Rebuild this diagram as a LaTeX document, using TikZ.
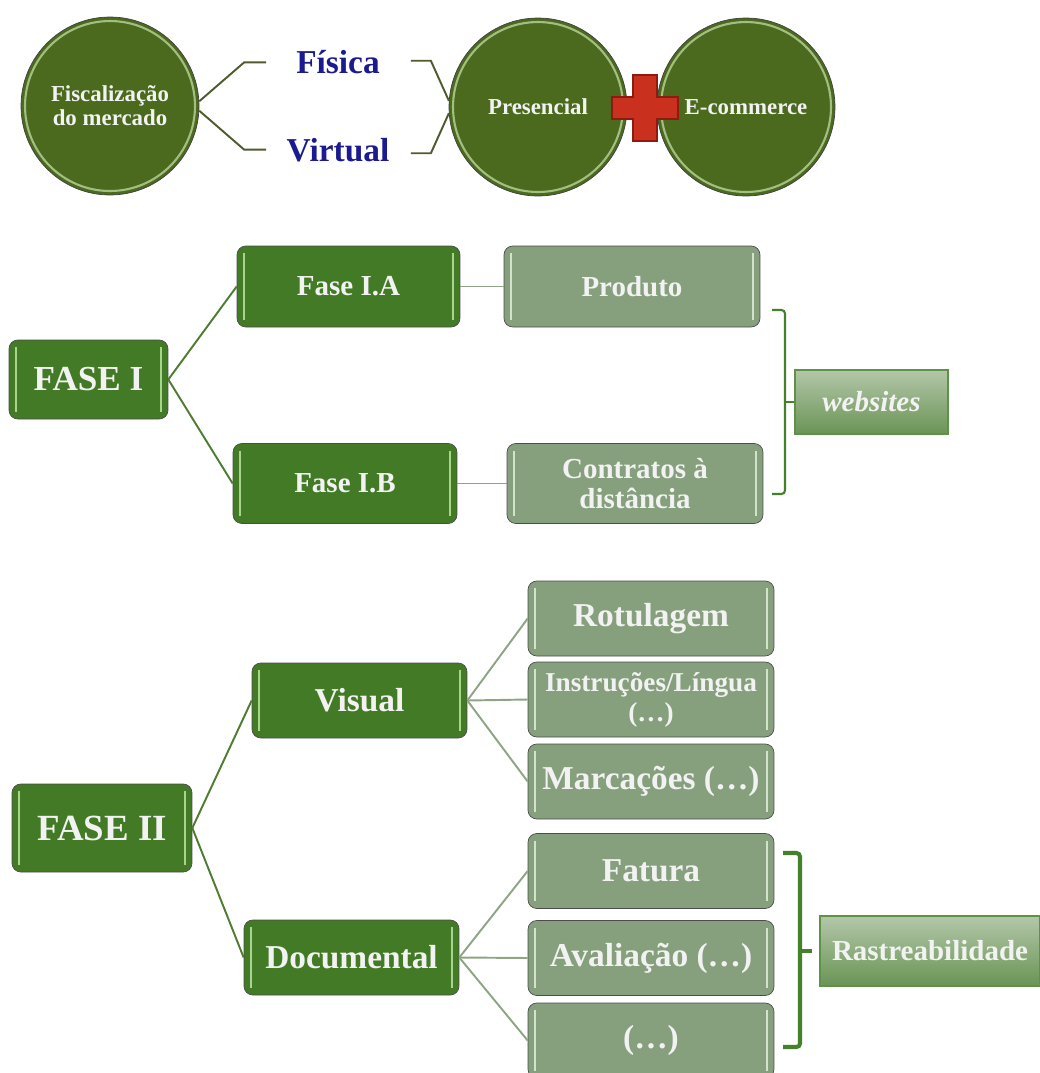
\documentclass[tikz,border=0pt]{standalone}
\usepackage{fontspec}
\setmainfont{Liberation Serif}

\definecolor{bubblegreen}{HTML}{4C6A1E}
\definecolor{rimgreen}{HTML}{B9D39A}
\definecolor{phasegreen}{HTML}{437A25}
\definecolor{leafgreen}{HTML}{86A07D}
\definecolor{phasegloss}{HTML}{A9D48E}
\definecolor{leafgloss}{HTML}{D2E2CB}
\definecolor{tagtop}{HTML}{B3C7A9}
\definecolor{tagbottom}{HTML}{6A9455}
\definecolor{tagborder}{HTML}{5E9246}
\definecolor{branchgreen}{HTML}{4E7D32}
\definecolor{twiggreen}{HTML}{8DA585}
\definecolor{forkolive}{HTML}{4F5B2E}
\definecolor{bracegreen}{HTML}{43822A}
\definecolor{choicenavy}{HTML}{1B1B8F}
\definecolor{crossred}{HTML}{C9301E}
\definecolor{crossdark}{HTML}{8E1B10}

% light stripes along the left and right sides of a box
\newcommand{\glossy}[1]{%
  \draw[#1, line width=1.3pt]
    ([xshift=4pt,yshift=-4pt]path picture bounding box.north west) --
    ([xshift=4pt,yshift=4pt]path picture bounding box.south west)
    ([xshift=-4pt,yshift=-4pt]path picture bounding box.north east) --
    ([xshift=-4pt,yshift=4pt]path picture bounding box.south east);}

\begin{document}
\begin{tikzpicture}
      [x=0.02cm, y=-0.02cm,
       bubble/.style={
           circle, minimum size=3.56cm, inner sep=0pt,
           align=center, text=white!95!black,
           fill=bubblegreen, draw=black!75,
           font=\fontsize{13}{13.5}\selectfont\bfseries,
           path picture={\draw[rimgreen, opacity=0.8, line width=1.2pt]
             (path picture bounding box.center) circle[radius=1.70cm];}
         },
       choice/.style={
           inner sep=0pt, text=choicenavy,
           font=\fontsize{19}{20}\selectfont\bfseries
         },
       phase/.style={
           rectangle, rounded corners=5pt,
           draw=black!70, fill=phasegreen,
           align=center, inner sep=2pt, text=white!95!black,
           path picture={\glossy{phasegloss}}
         },
       leaf/.style={
           phase, fill=leafgreen,
           path picture={\glossy{leafgloss}}
         },
       tag/.style={
           rectangle, draw=tagborder, line width=1pt,
           top color=tagtop, bottom color=tagbottom,
           text=white!95!black, inner sep=2pt,
           font=\fontsize{16.5}{17}\selectfont\bfseries
         },
       branch/.style={draw=branchgreen, line width=1.1pt},
       twig/.style={draw=twiggreen, line width=1.1pt},
       fork/.style={draw=forkolive, line width=1.1pt},
       brace/.style={draw=bracegreen, rounded corners=2pt},
       plusmark/.style={fill=crossred, draw=crossdark, line width=0.6pt},
       ]
    \useasboundingbox (0,0) rectangle (1040,1073);

    % ---- top row
    \node [bubble] (fisc) at (110,106) {Fiscalização\\do mercado};
    \node [choice] (fisica) at (338,62) {Física};
    \node [choice] (virtual) at (338,150) {Virtual};
    \node [bubble] (pres) at (538,107) {Presencial};
    \node [bubble] (ecom) at (746,107) {E-commerce};

    \draw [fork] (fisc.3) -- ++(45,-39) -- ++(22,0);
    \draw [fork] (fisc.-3) -- ++(45,39) -- ++(22,0);
    \draw [fork] (pres.176) -- ++(-18,-40) -- ++(-20,0);
    \draw [fork] (pres.184) -- ++(-18,40) -- ++(-20,0);

    \begin{scope}[shift={(645,108)}]
      \draw [plusmark] (-12,-33) -- (12,-33) -- (12,-11) -- (33,-11)
        -- (33,11) -- (12,11) -- (12,33) -- (-12,33) -- (-12,11)
        -- (-33,11) -- (-33,-11) -- (-12,-11) -- cycle;
    \end{scope}

    % ---- FASE I
    \node [phase, minimum width=3.18cm, minimum height=1.58cm,
           font=\fontsize{20}{22}\selectfont\bfseries] (fase1) at (88.5,379.5) {FASE I};
    \node [phase, minimum width=4.46cm, minimum height=1.62cm,
           font=\fontsize{16.5}{17}\selectfont\bfseries] (f1a) at (348.5,286.5) {Fase I.A};
    \node [phase, minimum width=4.48cm, minimum height=1.60cm,
           font=\fontsize{16.5}{17}\selectfont\bfseries] (f1b) at (345,483.5) {Fase I.B};
    \node [leaf, minimum width=5.12cm, minimum height=1.62cm,
           font=\fontsize{16.5}{17}\selectfont\bfseries] (prod) at (632,286.5) {Produto};
    \node [leaf, minimum width=5.12cm, minimum height=1.60cm,
           font=\fontsize{16.5}{17}\selectfont\bfseries] (contr) at (635,483.5) {Contratos à\\distância};
    \node [tag, minimum width=3.06cm, minimum height=1.28cm] (web) at (871.5,402) {\itshape websites};

    \draw [branch] (fase1.east) -- (f1a.west);
    \draw [branch] (fase1.east) -- (f1b.west);
    \draw [twig] (f1a.east) -- (prod.west);
    \draw [twig] (f1b.east) -- (contr.west);

    \draw [brace, line width=1.2pt] (772,310) -- (785,310) -- (785,494) -- (772,494);
    \draw [brace, line width=1.2pt] (web.west) -- ++(-10,0);

    % ---- FASE II
    \node [phase, minimum width=3.60cm, minimum height=1.76cm,
           font=\fontsize{21}{22}\selectfont\bfseries] (fase2) at (102,828) {FASE II};
    \node [phase, minimum width=4.30cm, minimum height=1.50cm,
           font=\fontsize{19}{20}\selectfont\bfseries] (visual) at (359.5,700.5) {Visual};
    \node [phase, minimum width=4.30cm, minimum height=1.50cm,
           font=\fontsize{19}{20}\selectfont\bfseries] (docum) at (351.5,957.5) {Documental};

    \node [leaf, minimum width=4.92cm, minimum height=1.50cm,
           font=\fontsize{19}{20}\selectfont\bfseries] (rot) at (651,618.5) {Rotulagem};
    \node [leaf, minimum width=4.92cm, minimum height=1.50cm,
           font=\fontsize{15.5}{17}\selectfont\bfseries] (instr) at (651,699.5) {Instruções/Língua\\(…)};
    \node [leaf, minimum width=4.92cm, minimum height=1.50cm,
           font=\fontsize{19}{20}\selectfont\bfseries] (marc) at (651,781.5) {Marcações (…)};
    \node [leaf, minimum width=4.92cm, minimum height=1.50cm,
           font=\fontsize{19}{20}\selectfont\bfseries] (fat) at (651,871) {Fatura};
    \node [leaf, minimum width=4.92cm, minimum height=1.50cm,
           font=\fontsize{19}{20}\selectfont\bfseries] (aval) at (651,958) {Avaliação (…)};
    \node [leaf, minimum width=4.92cm, minimum height=1.50cm,
           font=\fontsize{19}{20}\selectfont\bfseries] (etc) at (651,1040.5) {(…)};
    \node [tag, minimum width=4.40cm, minimum height=1.40cm] (rastr) at (930,951) {Rastreabilidade};

    \draw [branch] (fase2.east) -- (visual.west);
    \draw [branch] (fase2.east) -- (docum.west);
    \foreach \leaf in {rot,instr,marc}
      \draw [twig] (visual.east) -- (\leaf.west);
    \foreach \leaf in {fat,aval,etc}
      \draw [twig] (docum.east) -- (\leaf.west);

    \draw [brace, line width=2.3pt] (783,853) -- (800,853) -- (800,1047) -- (783,1047);
    \draw [brace, line width=2.3pt] (800,951) -- ++(12,0);

  \end{tikzpicture}
\end{document}
